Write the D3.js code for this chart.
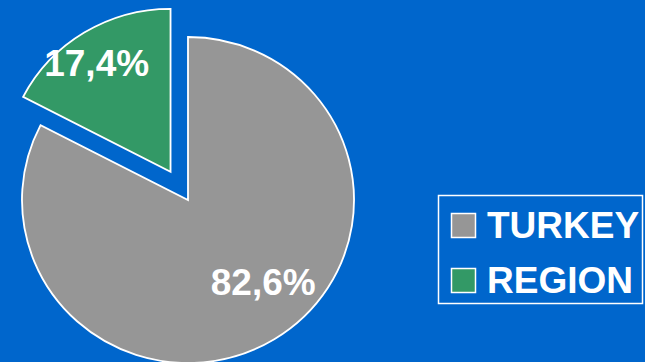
<!DOCTYPE html>
<html>
<head>
<meta charset="utf-8">
<script src="https://cdn.jsdelivr.net/npm/d3@7"></script>
<style>
  html, body { margin: 0; padding: 0; background: #0066cc; }
  svg { display: block; }
</style>
</head>
<body>
<div id="chart"></div>
<script>
// data
const categories = ["TURKEY", "REGION"];
const shares = [82.6, 17.4];
const labels = ["82,6%", "17,4%"];
const colors = ["#969696", "#339966"];

const width = 645, height = 362;
const cx = 188, cy = 200;
const radius = 163;
const squash = 166 / 163;   // the pie is slightly wider than tall

const svg = d3.select("#chart").append("svg")
  .attr("width", width)
  .attr("height", height);

svg.append("rect")
  .attr("width", width).attr("height", height)
  .attr("fill", "#0066cc");

const pie = d3.pie().sort(null).value(d => d)(shares);
const arc = d3.arc().innerRadius(0).outerRadius(radius);

// the region slice is pulled out along its middle angle
const explode = [0, 33];
// label placement: distance from apex and small angle tweak (radians)
const labelDist = [110, 131];
const labelTurn = [-0.19, -0.04];

const pieG = svg.append("g")
  .attr("transform", `translate(${cx},${cy}) scale(${squash},1)`);

function polar(a, r) {
  return [Math.sin(a) * r, -Math.cos(a) * r];
}

pie.forEach((p, i) => {
  const mid = (p.startAngle + p.endAngle) / 2;
  const [ox, oy] = polar(mid, explode[i]);
  pieG.append("path")
    .attr("d", arc(p))
    .attr("transform", `translate(${ox},${oy})`)
    .attr("fill", colors[i])
    .attr("stroke", "#fff")
    .attr("stroke-width", 1.8)
    .attr("stroke-linejoin", "miter");
});

// labels drawn unscaled on top
pie.forEach((p, i) => {
  const mid = (p.startAngle + p.endAngle) / 2;
  const [ox, oy] = polar(mid, explode[i]);
  const [lx, ly] = polar(mid + labelTurn[i], labelDist[i]);
  svg.append("text")
    .attr("x", cx + (ox + lx) * squash)
    .attr("y", cy + oy + ly)
    .attr("dy", "0.36em")
    .attr("text-anchor", "middle")
    .attr("fill", "#fff")
    .attr("font-family", "Liberation Sans, Arial, sans-serif")
    .attr("font-weight", "bold")
    .attr("font-size", 37)
    .text(labels[i]);
});

// legend
const legend = svg.append("g");
legend.append("rect")
  .attr("x", 438.5).attr("y", 195.5)
  .attr("width", 204).attr("height", 108)
  .attr("fill", "none")
  .attr("stroke", "#fff")
  .attr("stroke-width", 1.5);

const rowY = d3.scaleBand().domain(categories).range([200, 310]).paddingInner(0);

categories.forEach((c, i) => {
  const y = rowY(c);
  legend.append("rect")
    .attr("x", 451.5).attr("y", y + 13.5)
    .attr("width", 24).attr("height", 24)
    .attr("fill", colors[i])
    .attr("stroke", "#fff")
    .attr("stroke-width", 1.5);
  legend.append("text")
    .attr("x", 487)
    .attr("y", y + 38)
    .attr("fill", "#fff")
    .attr("font-family", "Liberation Sans, Arial, sans-serif")
    .attr("font-weight", "bold")
    .attr("font-size", 37)
    .text(c);
});
</script>
</body>
</html>
